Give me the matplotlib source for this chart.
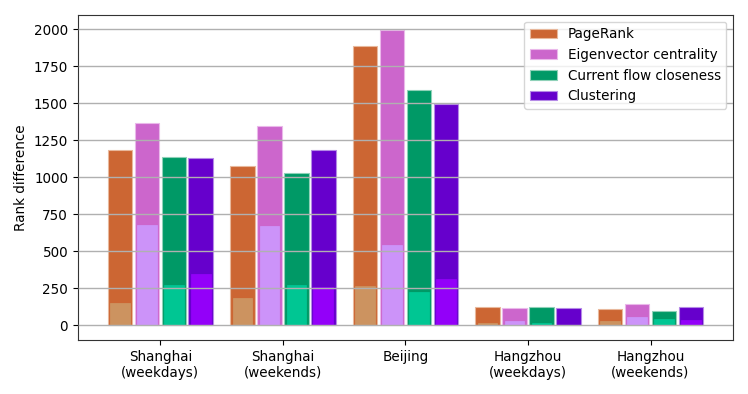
import numpy as np
import matplotlib
matplotlib.use("Agg")
import matplotlib.pyplot as plt

groups = ["Shanghai\n(weekdays)", "Shanghai\n(weekends)", "Beijing",
          "Hangzhou\n(weekdays)", "Hangzhou\n(weekends)"]
methods = ["PageRank", "Eigenvector centrality", "Current flow closeness", "Clustering"]

# outer (tall) bars
pagerank = [1182, 1072, 1887, 122, 108]
eigenvector = [1363, 1342, 1995, 115, 140]
flow_closeness = [1133, 1025, 1590, 126, 95]
clustering = [1130, 1185, 1491, 115, 122]

# inner (lighter) bars
pagerank_in = [147, 185, 266, 18, 28]
eigenvector_in = [674, 667, 545, 27, 56]
flow_closeness_in = [270, 270, 221, 14, 44]
clustering_in = [345, 261, 315, 2, 34]

outer = [pagerank, eigenvector, flow_closeness, clustering]
inner = [pagerank_in, eigenvector_in, flow_closeness_in, clustering_in]
colors_out = ["#cc6633", "#cc66cc", "#009966", "#6600cc"]
colors_in = ["#cc9966", "#cc99ff", "#00cc99", "#9900ff"]
edges = ["#e8b89c", "#eab8ea", "#8fd1b8", "#b58ae6"]

fs = 9.75
fig, ax = plt.subplots(figsize=(7.48, 3.94), dpi=100)
fig.subplots_adjust(left=0.104, right=0.98, bottom=0.137, top=0.962)

x = np.arange(len(groups))
pitch = 0.22
for i in range(4):
    pos = x + (i - 1.5) * pitch
    ax.bar(pos, outer[i], width=0.2, color=colors_out[i], edgecolor=edges[i],
           linewidth=0.8, label=methods[i], zorder=1)
    ax.bar(pos, inner[i], width=0.16, color=colors_in[i], edgecolor=colors_in[i],
           linewidth=0.5, alpha=0.9, zorder=1.5)

ax.set_ylim(-100, 2095)
ax.set_yticks(np.arange(0, 2001, 250))
ax.set_xticks(x)
ax.set_xticklabels(groups, fontsize=fs)
ax.tick_params(axis="y", labelsize=fs)
ax.set_ylabel("Rank difference", fontsize=fs)
ax.yaxis.grid(True, color="#b0b0b0", linewidth=1, zorder=2)
ax.set_axisbelow(False)
for s in ax.spines.values():
    s.set_color("#333333")

ax.legend(loc="upper right", fontsize=fs)

plt.savefig("out.png", dpi=100)
